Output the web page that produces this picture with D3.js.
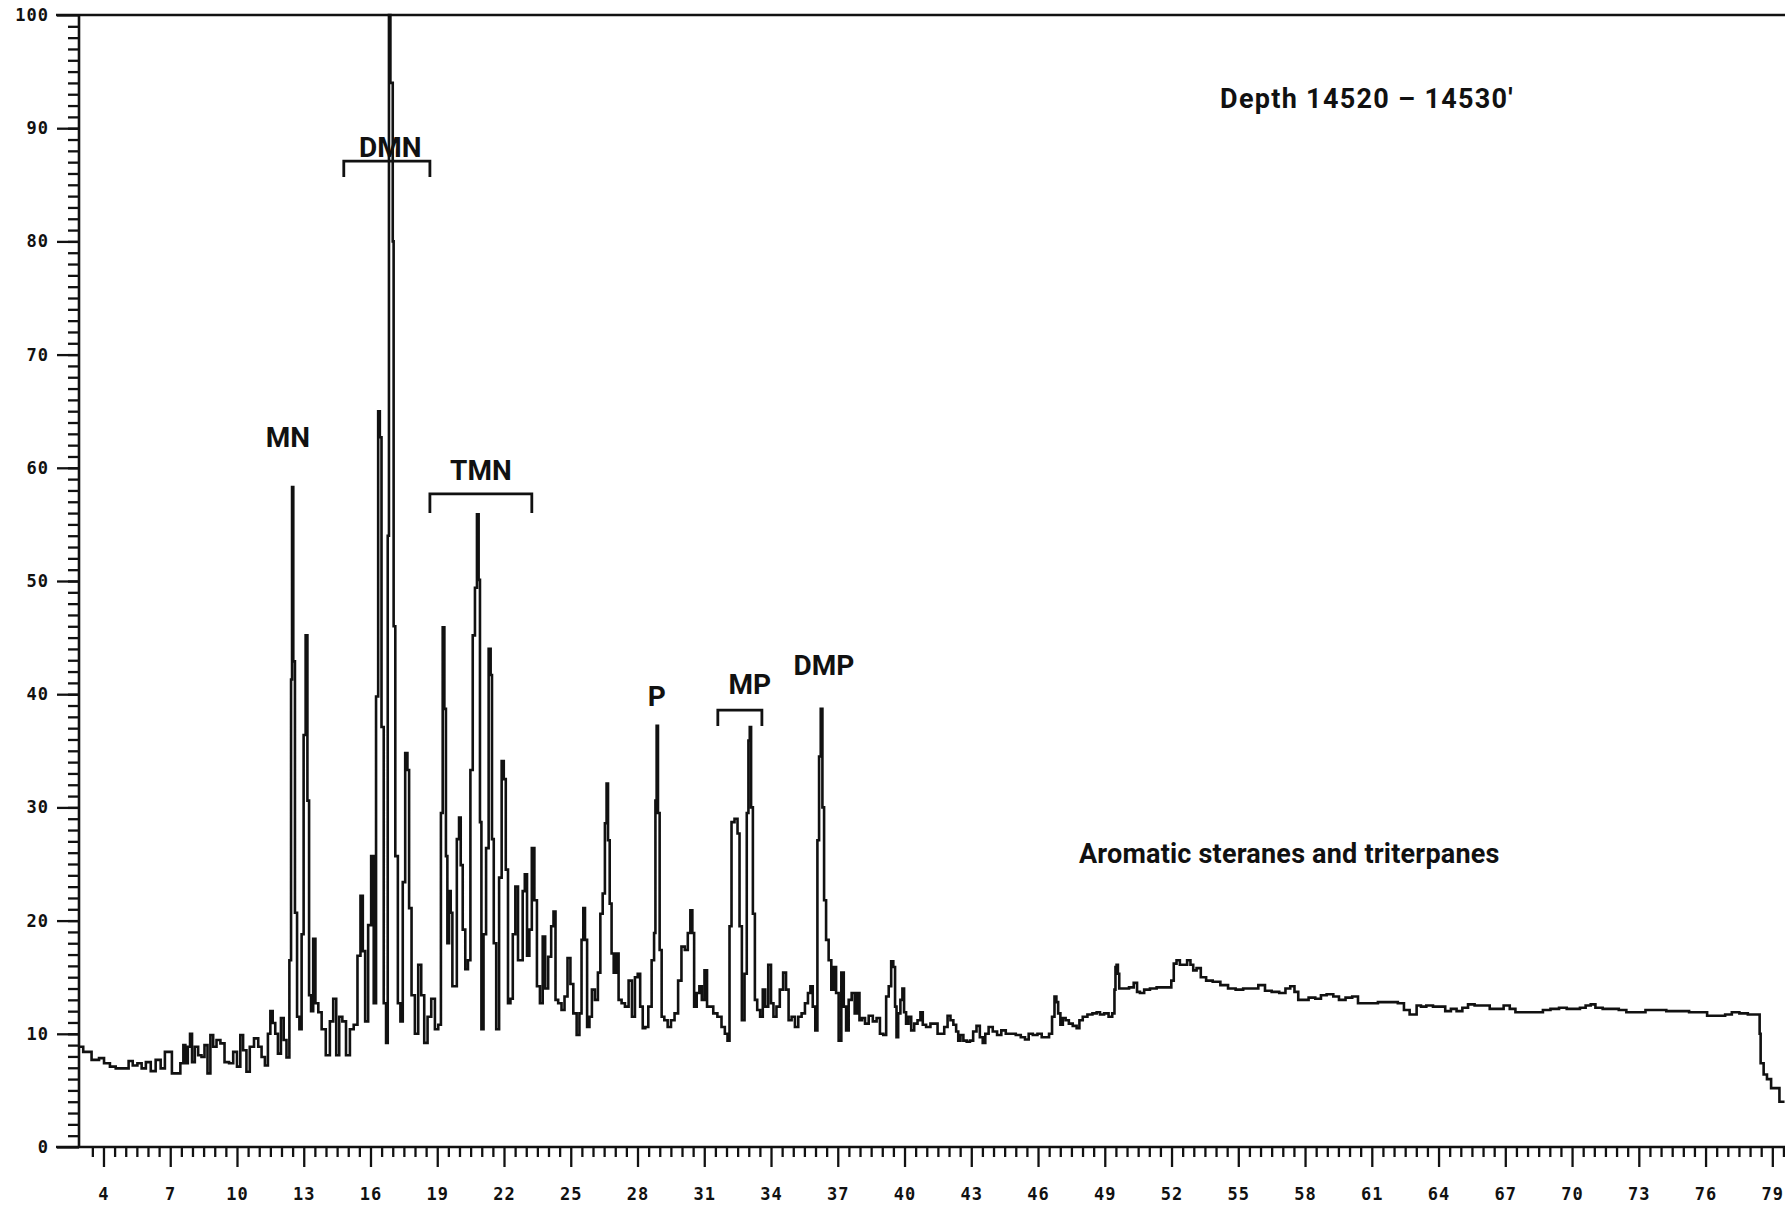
<!DOCTYPE html>
<html><head><meta charset="utf-8">
<script src="https://cdn.jsdelivr.net/npm/d3@7"></script>
<style>body{margin:0;background:#fff;} svg{display:block;}</style>
</head><body><svg id="chart" width="1785" height="1206"></svg>
<script>
const retentionTime = [
2.94,3.24,3.69,3.91,4.14,4.44,4.66,5.04,5.22,5.41,5.64,5.79,6.02,6.23,6.46,6.68,6.84,7.02,7.13,7.36,7.55,7.63,7.73,7.85,7.93,8.03,8.18,8.33,8.48,8.6,8.75,8.86,9.0,9.16,9.35,9.53,9.76,9.9,10.1,10.2,10.35,10.5,10.65,10.88,11.03,11.18,11.33,11.45,11.55,11.66,11.78,11.9,12.05,12.15,12.3,
12.41,12.45,12.5,12.56,12.65,12.75,12.86,12.95,13.04,13.13,13.2,13.28,13.38,13.47,13.58,13.73,13.88,14.1,14.25,14.4,14.52,14.67,14.8,15.0,15.15,15.34,15.49,15.61,15.7,15.82,15.97,16.09,16.2,16.3,16.39,16.45,16.54,16.65,16.75,16.8,16.86,16.93,16.98,17.02,17.06,17.17,17.29,17.4,17.5,17.62,17.7,17.77,17.92,18.07,18.22,18.34,18.49,18.64,18.82,18.97,19.12,19.21,19.28,19.36,19.42,19.49,19.57,19.64,19.72,19.82,19.94,20.02,20.09,20.2,20.32,20.44,20.54,20.65,20.74,20.83,20.89,20.95,21.02,21.14,21.25,21.37,21.43,21.49,21.59,21.71,21.85,21.94,22.04,22.12,22.24,22.34,22.45,22.57,22.69,22.79,22.89,22.98,23.09,23.19,23.31,23.42,23.54,23.69,
23.79,23.91,24.06,24.18,24.27,24.36,24.51,24.66,24.78,24.93,25.04,25.19,25.34,25.44,25.53,25.6,25.68,25.79,25.89,26.01,26.16,26.28,26.38,26.49,26.58,26.64,26.71,26.79,26.88,26.98,27.09,27.21,27.36,27.51,27.69,27.81,27.96,28.06,28.18,28.29,28.41,28.56,28.71,28.78,28.83,28.89,28.95,29.04,29.13,29.28,29.43,29.58,29.75,29.9,30.05,30.2,30.32,30.43,30.5,30.59,30.73,30.83,30.95,31.07,31.18,31.33,31.48,31.7,31.85,32.0,32.09,32.18,32.27,32.45,32.54,32.63,32.75,32.87,32.95,33.02,33.07,33.14,33.23,33.32,33.44,33.58,33.68,33.8,33.95,34.05,34.17,34.32,34.47,34.62,34.73,34.85,35.0,35.15,35.3,35.45,35.6,35.72,35.82,35.93,36.05,36.12,36.2,36.27,36.35,36.42,36.53,36.65,36.77,36.87,36.98,37.1,37.22,37.32,37.43,37.55,37.7,37.82,37.92,38.03,
38.15,38.3,38.48,38.67,38.82,38.97,39.12,39.23,39.35,39.45,39.54,39.61,39.67,39.76,39.87,39.94,40.02,40.12,40.24,40.36,40.51,40.66,40.77,40.87,41.07,41.26,41.41,41.56,41.71,41.86,42.01,42.12,42.27,42.37,42.46,42.57,42.72,42.87,43.01,43.16,43.31,43.46,43.57,43.69,43.87,44.06,44.26,44.44,44.66,44.89,45.11,45.34,45.49,45.67,45.86,46.09,46.24,46.42,46.57,46.69,46.79,46.86,46.95,47.06,47.17,47.31,47.46,47.66,47.81,47.91,48.11,48.33,48.56,48.71,48.86,49.08,49.26,49.41,49.46,49.5,49.56,49.62,49.68,49.98,50.2,50.4,50.5,50.66,50.88,51.18,51.48,51.93,52.05,52.15,52.3,52.45,52.6,52.8,52.9,
53.05,53.2,53.43,53.68,54.02,54.37,54.71,55.05,55.39,55.73,56.07,56.33,56.67,57.01,57.23,57.44,57.61,57.78,58.03,58.29,58.63,58.8,59.14,59.4,59.65,59.99,60.25,60.51,61.02,61.53,62.04,62.3,62.59,62.81,62.93,63.1,63.32,63.58,63.92,64.17,64.43,64.68,64.94,65.2,65.45,65.79,66.13,66.47,66.78,67.07,67.33,67.58,68.01,68.52,68.86,69.2,69.63,69.89,70.23,70.48,70.74,70.94,71.16,71.59,71.93,72.27,72.61,72.87,73.13,73.47,73.98,74.49,75.0,75.52,75.94,76.2,76.71,77.05,77.31,77.73,78.07,78.41,78.45,78.5,78.72,78.8,79.09,79.55];
const intensity = [
8.85,8.4,7.7,7.85,7.4,7.1,6.95,6.95,7.6,7.2,7.4,6.95,7.5,6.7,7.7,6.95,8.4,8.4,6.5,6.5,7.4,9.0,7.4,8.85,10.0,7.5,8.85,8.1,7.95,9.0,6.5,9.9,8.85,9.45,9.15,7.5,7.4,8.4,7.1,9.9,8.55,6.65,8.85,9.6,8.85,7.95,7.2,10.0,12.0,10.95,10.0,8.25,11.4,9.45,7.9,
16.5,41.3,58.3,42.9,20.7,11.5,10.4,18.8,36.4,45.2,30.6,13.4,12.0,18.4,12.7,11.9,10.4,8.1,11.1,13.1,8.1,11.5,11.1,8.1,10.4,10.8,16.9,22.2,17.3,11.1,19.6,25.7,12.7,39.8,65.0,62.7,37.1,12.7,9.2,54.0,100,94,94,80,46,25.7,12.7,11.1,23.4,34.8,33.3,21.1,13.4,10.0,16.1,13.4,9.2,11.5,13.1,10.4,10.8,29.5,45.9,38.7,25.7,18.0,22.6,20.7,14.2,14.2,27.2,29.1,24.9,19.2,15.7,16.5,33.3,45.2,49.4,55.9,50.1,28.7,10.4,18.8,26.4,44.0,41.7,27.2,18.0,10.4,23.8,34.1,32.5,24.5,12.7,13.1,18.8,23.0,16.5,16.5,22.6,24.1,16.9,19.2,26.4,21.8,14.2,12.7,
18.6,14.0,16.8,19.5,20.8,13.0,12.7,12.1,13.3,16.7,14.4,11.8,9.9,11.8,18.3,21.1,18.3,10.6,11.5,13.9,13.0,15.4,20.6,22.4,28.6,32.1,27.1,21.5,17.1,15.4,17.1,13.0,12.7,12.4,14.7,11.5,15.0,15.3,12.4,10.5,10.6,12.4,16.5,18.9,30.6,37.2,29.5,17.4,11.5,11.2,10.6,11.2,11.8,14.7,17.7,17.4,18.9,20.9,18.9,12.4,13.6,14.2,13.0,15.6,12.4,12.4,11.8,11.5,10.6,10.0,9.4,19.5,28.7,29.0,27.7,19.5,11.2,15.3,29.5,35.9,37.1,30.0,20.6,13.0,12.1,11.5,13.9,12.4,16.1,12.7,11.5,12.4,13.9,15.4,13.9,11.2,11.5,10.6,11.5,11.8,12.7,13.6,14.2,12.4,10.3,27.1,34.5,38.7,30.0,21.8,18.3,16.5,13.9,15.9,13.6,9.4,15.4,12.4,10.3,13.0,13.6,11.8,13.6,11.2,
11.4,10.9,11.6,11.1,11.4,10.0,9.9,13.3,14.2,16.4,15.9,12.4,9.7,11.8,13.0,14.0,11.9,10.9,11.5,10.3,10.9,11.2,11.9,10.8,10.6,10.9,10.9,10.0,10.0,10.6,11.6,11.2,10.8,10.2,9.4,9.9,9.4,9.3,9.4,10.2,10.7,9.7,9.2,10.0,10.6,10.2,9.9,10.3,10.0,10.0,9.9,9.7,9.5,10.0,9.9,10.0,9.7,9.7,10.0,11.5,13.3,12.8,11.8,10.8,11.4,11.2,10.9,10.7,10.5,11.2,11.5,11.7,11.8,11.9,11.7,11.8,11.5,11.8,13.9,15.9,16.1,15.3,14.0,14.0,14.1,14.5,13.7,13.6,13.9,14.0,14.1,14.1,14.7,16.2,16.5,16.1,16.1,16.5,16.1,
15.6,15.8,15.0,14.7,14.6,14.3,14.0,13.9,14.0,14.0,14.3,13.8,13.7,13.6,14.0,14.2,13.7,13.0,13.0,13.2,13.1,13.4,13.5,13.3,13.0,13.2,13.3,12.7,12.7,12.8,12.8,12.7,12.1,11.7,11.7,12.5,12.4,12.5,12.4,12.4,12.0,12.2,12.0,12.3,12.6,12.5,12.5,12.2,12.2,12.5,12.2,11.9,11.9,11.9,12.1,12.2,12.3,12.2,12.2,12.3,12.5,12.6,12.3,12.2,12.2,12.1,11.9,11.9,11.9,12.1,12.1,12.0,12.0,11.9,11.9,11.6,11.6,11.7,11.9,11.8,11.7,11.7,10.0,7.4,6.4,6.0,5.2,4.0];
const xTickLabels = [4,7,10,13,16,19,22,25,28,31,34,37,40,43,46,49,52,55,58,61,64,67,70,73,76,79];
const yTickLabels = [0,10,20,30,40,50,60,70,80,90,100];
const peakNames = ["MN","DMN","TMN","P","MP","DMP"];
const peakNameTime = [12.29,16.89,20.96,28.87,33.05,36.38];
const peakNameLevel = [61.8,87.5,58.9,39.0,40.0,41.7];
const bracketStart = [14.8,18.67,31.61];
const bracketEnd = [18.67,23.25,33.59];
const bracketTop = [87.1,57.7,38.6];
const bracketFoot = [85.7,56.0,37.2];
const notes = ["Depth 14520 \u2013 14530\u2032","Aromatic steranes and triterpanes"];
const noteTime = [54.18,47.84];
const noteLevel = [91.8,25.1];

const svg = d3.select("#chart");
svg.append("rect").attr("width",1785).attr("height",1206).attr("fill","#fff");
const x = d3.scaleLinear().domain([2.9,79.57]).range([79,1785]);
const y = d3.scaleLinear().domain([0,100]).range([1147,15]);
const ink = "#111";

// frame lines
svg.append("line").attr("x1",56).attr("x2",1785).attr("y1",y(0)).attr("y2",y(0)).attr("stroke",ink).attr("stroke-width",2.4);
svg.append("line").attr("x1",56).attr("x2",1785).attr("y1",y(100)).attr("y2",y(100)).attr("stroke",ink).attr("stroke-width",2.4);
svg.append("line").attr("x1",x(2.9)).attr("x2",x(2.9)).attr("y1",y(0)).attr("y2",y(100)).attr("stroke",ink).attr("stroke-width",2.6);

const majorSet = new Set(xTickLabels.map(String));
const xMinor = d3.range(3.5,79.6,0.5).filter(v=>!majorSet.has(String(v)));
const gxm = svg.append("g").attr("transform",`translate(0,${y(0)})`)
  .call(d3.axisBottom(x).tickValues(xMinor).tickSize(10).tickFormat(""));
const gxM = svg.append("g").attr("transform",`translate(0,${y(0)})`)
  .call(d3.axisBottom(x).tickValues(xTickLabels).tickSize(20).tickPadding(21));
const ym = svg.append("g").attr("transform",`translate(${x(2.9)},0)`)
  .call(d3.axisLeft(y).tickValues(d3.range(1,100)).tickSize(11).tickFormat(""));
const yM = svg.append("g").attr("transform",`translate(${x(2.9)},0)`)
  .call(d3.axisLeft(y).tickValues(yTickLabels).tickSize(22).tickPadding(8));
[gxm,gxM,ym,yM].forEach(g=>{
  g.select(".domain").remove();
  g.selectAll("line").attr("stroke",ink).attr("stroke-width",2.3);
  g.selectAll("text").attr("fill",ink).style("font-family","'DejaVu Sans Mono',monospace")
    .style("font-weight","bold").style("font-size","17px").style("letter-spacing","1px");
});

// trace
const pts = retentionTime.map((t,i)=>[t,intensity[i]]);
svg.append("path").datum(pts)
  .attr("d",d3.line().curve(d3.curveStep).x(d=>x(d[0])).y(d=>y(d[1])))
  .attr("fill","none").attr("stroke",ink).attr("stroke-width",2.6).attr("stroke-linejoin","miter");

// brackets
bracketStart.forEach((s,i)=>{
  const p = d3.path();
  p.moveTo(x(s),y(bracketFoot[i]));
  p.lineTo(x(s),y(bracketTop[i]));
  p.lineTo(x(bracketEnd[i]),y(bracketTop[i]));
  p.lineTo(x(bracketEnd[i]),y(bracketFoot[i]));
  svg.append("path").attr("d",p.toString()).attr("fill","none").attr("stroke",ink).attr("stroke-width",2.8);
});

const labelFont = "Roboto, 'Liberation Sans', sans-serif";
peakNames.forEach((n,i)=>{
  svg.append("text").attr("x",x(peakNameTime[i])).attr("y",y(peakNameLevel[i]))
    .attr("text-anchor","middle").attr("fill",ink)
    .style("font-family",labelFont).style("font-weight","bold").style("font-size","28px").text(n);
});
notes.forEach((n,i)=>{
  svg.append("text").attr("x",x(noteTime[i])).attr("y",y(noteLevel[i]))
    .attr("fill",ink)
    .style("font-family",labelFont).style("font-weight","bold").style("font-size","27px")
    .style("letter-spacing", i===0 ? "1.3px" : "0.2px").text(n);
});
</script></body></html>
